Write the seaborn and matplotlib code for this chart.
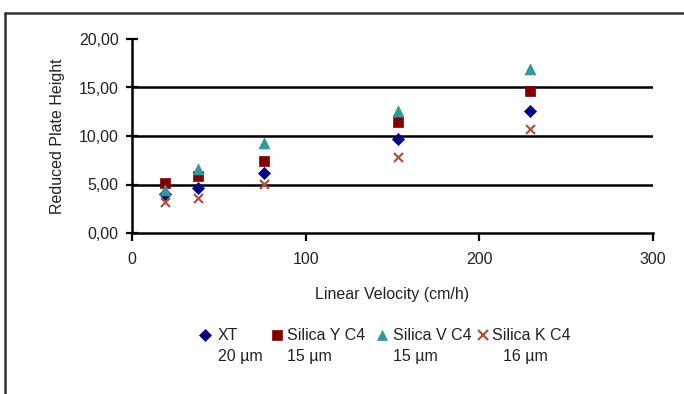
import numpy as np
import pandas as pd
import matplotlib
matplotlib.use("Agg")
import matplotlib.pyplot as plt
import seaborn as sns
from matplotlib.lines import Line2D
from matplotlib.ticker import FuncFormatter, FixedLocator

# ---- data ----
velocity = [19, 38, 76, 153, 229]
xt = [4.0, 4.65, 6.2, 9.65, 12.6]
silica_y = [5.2, 5.9, 7.4, 11.4, 14.65]
silica_v = [4.4, 6.6, 9.3, 12.6, 16.9]
silica_k = [3.2, 3.6, 5.05, 7.8, 10.75]
series_names = ["XT", "Silica Y C4", "Silica V C4", "Silica K C4"]
particle_sizes = ["20 µm", "15 µm", "15 µm", "16 µm"]
x_ticks = [0, 100, 200, 300]
y_ticks = [0, 5, 10, 15, 20]
x_label = "Linear Velocity (cm/h)"
y_label = "Reduced Plate Height"

# ---- styles ----
colors = ["#000080", "#800000", "#339999", "#A9543F"]
markers = ["D", "s", "^", "x"]
sizes = [38, 48, 62, 42]

sns.set_theme(style="white")
plt.rcParams['font.family'] = ['Liberation Sans', 'DejaVu Sans']
FS = 11.5

W, H = 684, 394
fig = plt.figure(figsize=(W / 100, H / 100), dpi=100)
fig.patch.set_facecolor("white")

ax_left, ax_right, ax_top, ax_bottom = 132, 653, 39, 233
ax = fig.add_axes([ax_left / W, 1 - ax_bottom / H,
                   (ax_right - ax_left) / W, (ax_bottom - ax_top) / H])
ax.set_facecolor("white")

all_series = [xt, silica_y, silica_v, silica_k]
for name, vals, c, m, s in zip(series_names, all_series, colors, markers, sizes):
    if m == "x":
        sns.scatterplot(x=velocity, y=vals, marker=m, color=c, s=s,
                        linewidth=1.6, ax=ax, zorder=3)
    else:
        sns.scatterplot(x=velocity, y=vals, marker=m, color=c, s=s,
                        edgecolor=c, linewidth=0.5, ax=ax, zorder=3)

ax.set_xlim(0, 300)
ax.set_ylim(0, 20)
ax.xaxis.set_major_locator(FixedLocator(x_ticks))
ax.yaxis.set_major_locator(FixedLocator(y_ticks))
ax.yaxis.set_major_formatter(FuncFormatter(lambda v, p: f"{v:.2f}".replace(".", ",")))

for sp in ["top", "right"]:
    ax.spines[sp].set_visible(False)
for sp in ["left", "bottom"]:
    ax.spines[sp].set_color("black")
    ax.spines[sp].set_linewidth(1.8)

ax.yaxis.grid(True, color="black", linewidth=1.8)
ax.xaxis.grid(False)
for gl, t in zip(ax.get_ygridlines(), y_ticks):
    if t in (y_ticks[0], y_ticks[-1]):
        gl.set_visible(False)

ax.tick_params(axis="y", direction="inout", length=9, width=1.6, color="black",
               labelsize=FS, pad=5, left=True)
ax.tick_params(axis="x", direction="out", length=6, width=1.6, color="black",
               labelsize=FS, pad=8, bottom=True)
for lbl in ax.get_xticklabels() + ax.get_yticklabels():
    lbl.set_color("#222222")

ax.set_xlabel(x_label, fontsize=FS, color="#222222", labelpad=14)
ax.set_ylabel(y_label, fontsize=FS, color="#222222", labelpad=10)

# ---- legend (manual, two-line labels) ----
marker_px = [205, 277, 382, 483]
text_px = [218, 287, 393, 492]
text2_px = [218, 287, 393, 503]
row1_y, row2_y = 335, 357
for i, name in enumerate(series_names):
    mk = markers[i]
    kw = dict(marker=mk, color=colors[i], linestyle="none",
              markersize=np.sqrt(sizes[i]), transform=fig.transFigure)
    if mk == "x":
        kw["markeredgewidth"] = 1.6
    else:
        kw["markeredgecolor"] = colors[i]
        kw["markeredgewidth"] = 0.5
    fig.add_artist(Line2D([marker_px[i] / W], [1 - row1_y / H], **kw))
    fig.text(text_px[i] / W, 1 - row1_y / H, name, fontsize=FS,
             ha="left", va="center", color="#222222")
    fig.text(text2_px[i] / W, 1 - row2_y / H, particle_sizes[i], fontsize=FS,
             ha="left", va="center", color="#222222")

# ---- outer border (top and left edges visible) ----
border_kw = dict(color="#333333", linewidth=1.8, transform=fig.transFigure)
fig.add_artist(Line2D([5 / W, 1.0], [1 - 12.7 / H, 1 - 12.7 / H], **border_kw))
fig.add_artist(Line2D([5 / W, 5 / W], [1 - 12.7 / H, 0.0], **border_kw))

fig.savefig("out.png", dpi=100, facecolor="white")
